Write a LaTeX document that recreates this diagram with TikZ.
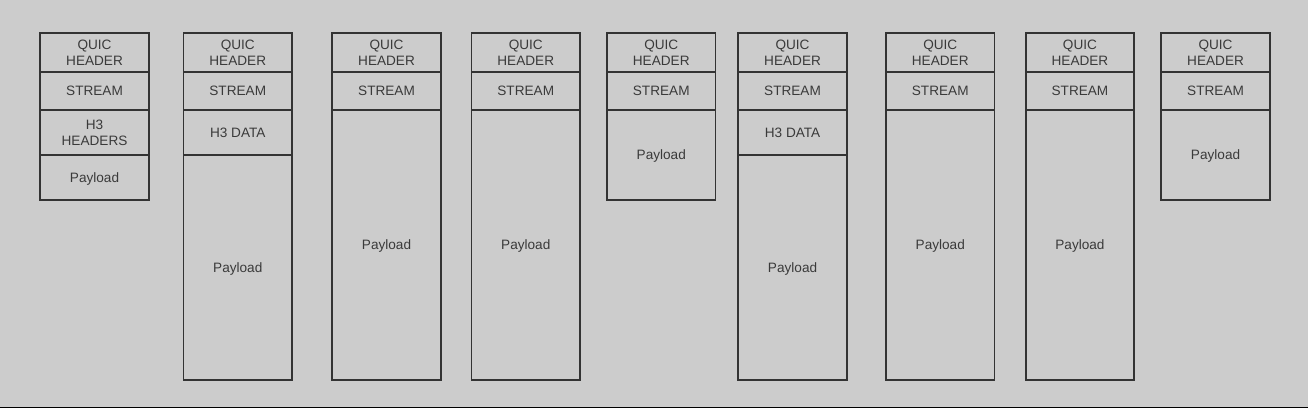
\documentclass[tikz,border=0pt]{standalone}
\usepackage{fontspec}
\setmainfont{Liberation Sans}
\definecolor{bg}{HTML}{CCCCCC}
\definecolor{ln}{HTML}{333333}
\definecolor{tx}{HTML}{3A3A3A}
\definecolor{baseline}{HTML}{1A1A1A}
\tikzset{
  cell/.style={draw=ln, line width=1.8pt, anchor=north west, minimum width=108.5pt,
    inner sep=0pt, outer sep=0pt, text depth=0pt, text=tx,
    font=\fontsize{13.6}{16.5}\selectfont, align=center},
}
% column with an H3 cell: name, x, middle text, bottom y
\newcommand\qcolmid[4]{%
  \node[cell, minimum height=38.5pt] (#1h) at (#2,33.3) {QUIC\\HEADER};
  \node[cell, minimum height=38pt] (#1s) at (#2,71.8) {STREAM};
  \node[cell, minimum height=45.5pt] (#1m) at (#2,109.8) {#3};
  \pgfmathsetmacro\hh{#4-155.3}
  \node[cell, minimum height=\hh pt] (#1p) at (#2,155.3) {Payload};
}
% column without an H3 cell: name, x, bottom y
\newcommand\qcolplain[3]{%
  \node[cell, minimum height=38.5pt] (#1h) at (#2,33.3) {QUIC\\HEADER};
  \node[cell, minimum height=38pt] (#1s) at (#2,71.8) {STREAM};
  \pgfmathsetmacro\hh{#3-109.8}
  \node[cell, minimum height=\hh pt] (#1p) at (#2,109.8) {Payload};
}
\begin{document}
\begin{tikzpicture}[x=1pt,y=-1pt]
  \useasboundingbox (0,0) rectangle (1308,408);
  \fill[bg] (0,0) rectangle (1308,408);
  \fill[baseline] (0,406.5) rectangle (1308,408);
  \qcolmid{a}{40.3}{H3\\HEADERS}{200}
  \qcolmid{b}{183.5}{H3 DATA}{380}
  \qcolplain{c}{332.3}{380}
  \qcolplain{d}{471.5}{380}
  \qcolplain{e}{607}{200}
  \qcolmid{f}{738.3}{H3 DATA}{380}
  \qcolplain{g}{886}{380}
  \qcolplain{h}{1025.7}{380}
  \qcolplain{i}{1161.3}{200}
\end{tikzpicture}
\end{document}
